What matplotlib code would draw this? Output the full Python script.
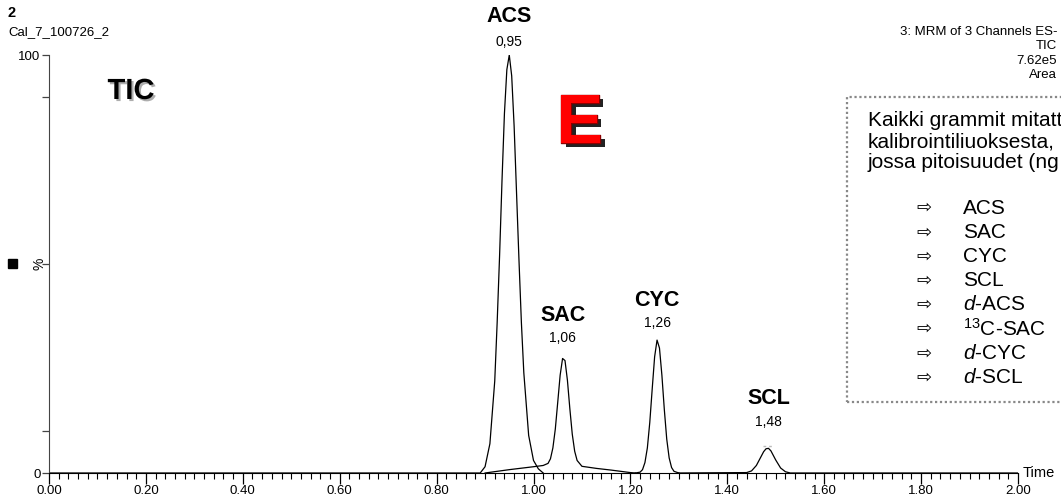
import matplotlib.pyplot as plt
import matplotlib.patheffects as pe
from matplotlib.patches import Rectangle

plt.rcParams['font.family'] = ['Liberation Sans', 'DejaVu Sans']
plt.rcParams['mathtext.fontset'] = 'custom'
plt.rcParams['mathtext.rm'] = 'Liberation Sans'
plt.rcParams['mathtext.it'] = 'Liberation Sans:italic'

# trace (time in min, % of max)
acs_time = [0.00, 0.89, 0.90, 0.91, 0.92, 0.925, 0.93, 0.935, 0.94, 0.945, 0.95,
            0.955, 0.96, 0.965, 0.97, 0.975, 0.98, 0.99, 1.00, 1.01, 1.02]
acs_pct = [0, 0, 1.5, 7, 22, 36, 52, 70, 86, 96.5, 100,
           95, 83, 67, 51, 36, 24, 9, 3, 1, 0]

# SAC sits on a low broad hump
sac_time = [0.90, 0.95, 1.00, 1.02, 1.03, 1.035, 1.04, 1.045, 1.05, 1.055, 1.06,
            1.065, 1.07, 1.075, 1.08, 1.085, 1.09, 1.10, 1.13, 1.16, 1.20, 1.21]
sac_pct = [0, 0.8, 1.5, 1.8, 2.3, 3.4, 6.0, 10.5, 16.9, 23.4, 27.4,
           26.9, 22.2, 15.4, 9.3, 5.2, 3.0, 1.6, 1.1, 0.7, 0.1, 0]

cyc_time = [1.21, 1.22, 1.225, 1.23, 1.235, 1.24, 1.245, 1.25, 1.255, 1.26,
            1.265, 1.27, 1.275, 1.28, 1.285, 1.29, 1.30]
cyc_pct = [0, 0.2, 0.8, 2.5, 6.0, 12.1, 20.1, 27.8, 31.8, 29.9,
           23.4, 15.2, 8.1, 3.6, 1.3, 0.4, 0]

scl_time = [1.30, 1.44, 1.45, 1.46, 1.47, 1.475, 1.48, 1.485, 1.49, 1.50,
            1.51, 1.52, 1.53, 2.00]
scl_pct = [0, 0.1, 0.5, 1.8, 4.0, 5.1, 5.8, 5.9, 5.3, 3.1,
           1.2, 0.3, 0, 0]

peak_names = ['ACS', 'SAC', 'CYC', 'SCL']
peak_rt = ['0,95', '1,06', '1,26', '1,48']

compounds = ['ACS', 'SAC', 'CYC', 'SCL', '$\\it{d}$-ACS', '$^{13}$C-SAC',
             '$\\it{d}$-CYC', '$\\it{d}$-SCL']
note_lines = ['Kaikki grammit mitatt', 'kalibrointiliuoksesta,',
              'jossa pitoisuudet (ng']

W, H = 1061, 499
fig = plt.figure(figsize=(W / 100, H / 100), dpi=100)
ax = fig.add_axes([49 / W, 1 - 473 / H, (1018 - 49) / W, (473 - 55) / H])

traces = [(acs_time, acs_pct), (sac_time, sac_pct),
          (cyc_time, cyc_pct), (scl_time, scl_pct)]
for t, p in traces:
    ax.plot(t, p, color='black', lw=0.9, solid_joinstyle='round')

ax.set_xlim(0, 2.0)
ax.set_ylim(0, 100)
for s in ['top', 'right']:
    ax.spines[s].set_visible(False)
ax.spines['left'].set_color('#444444')
ax.spines['bottom'].set_color('black')

ax.set_xticks([i * 0.2 for i in range(11)])
ax.set_xticklabels(['%.2f' % (i * 0.2) for i in range(11)], fontsize=9.5)
ax.set_xticks([i * 0.02 for i in range(101)], minor=True)
ax.tick_params(axis='x', which='major', length=8, width=0.9, pad=1)
ax.tick_params(axis='x', which='minor', length=4, width=0.8)
ax.set_yticks([0, 10, 50, 90, 100])
ax.set_yticklabels(['0', '', '', '', '100'], fontsize=9.5)
ax.tick_params(axis='y', length=5, width=0.9, pad=1, color='#444444')

# peak labels
name_off = [38, 43, 40, 50]
rt_off = [13, 20, 17, 26]
for (t, p), nm, rt, no, ro in zip(traces, peak_names, peak_rt, name_off, rt_off):
    i = p.index(max(p))
    ax.annotate(nm, (t[i], p[i]), xytext=(0, no), textcoords='offset pixels',
                ha='center', va='center', fontsize=15.5, fontweight='bold',
                annotation_clip=False)
    ax.annotate(rt, (t[i], p[i]), xytext=(0, ro), textcoords='offset pixels',
                ha='center', va='center', fontsize=10, annotation_clip=False)

# small dashed marker over the SCL apex
i = scl_pct.index(max(scl_pct))
ax.plot([scl_time[i] - 0.012, scl_time[i] + 0.012], [scl_pct[i] + 0.6] * 2,
        color='#bbbbbb', lw=1, ls=(0, (2, 2)))

ax.text(1.005, 0, 'Time', transform=ax.transAxes, ha='left', va='center',
        fontsize=10.5)
fig.text(40 / W, 1 - 264 / H, '%', rotation=90, ha='center', va='center',
         fontsize=10)
fig.patches.append(Rectangle((8 / W, 1 - 268 / H), 9 / W, 9 / H,
                             transform=fig.transFigure, color='black'))

# header texts
fig.text(7 / W, 1 - 13 / H, '2', fontsize=10.5, fontweight='bold', va='center')
fig.text(8 / W, 1 - 32 / H, 'Cal_7_100726_2', fontsize=9.5, va='center')
for k, s in enumerate(['3: MRM of 3 Channels ES-', 'TIC', '7.62e5', 'Area']):
    fig.text(1057 / W, 1 - (32 + 14.3 * k) / H, s, fontsize=9.5,
             ha='right', va='center')

fig.text(131 / W, 1 - 91 / H, 'TIC', fontsize=21, fontweight='bold',
         ha='center', va='center',
         path_effects=[pe.SimplePatchShadow(offset=(1.5, -1.5),
                                            shadow_rgbFace='#999999', alpha=0.8),
                       pe.Normal()])

fig.text(580 / W, 1 - 125 / H, 'E', fontsize=50, fontweight='bold',
         color='#ff0000', ha='center', va='center',
         path_effects=[pe.SimplePatchShadow(offset=(3, -3),
                                            shadow_rgbFace='#222222', alpha=1),
                       pe.Stroke(linewidth=1, foreground='#8b0000'),
                       pe.Normal()])

# note box
fig.patches.append(Rectangle((847 / W, 1 - 402 / H), 230 / W, 305 / H,
                             transform=fig.transFigure, fill=False,
                             edgecolor='#888888', lw=1.6, ls=(0, (1, 1.2)),
                             clip_on=False))
for k, s in enumerate(note_lines):
    fig.text(868 / W, 1 - (121 + 21 * k) / H, s, fontsize=15, va='center')
for k, s in enumerate(compounds):
    y = 1 - (208 + 24.2 * k) / H
    fig.text(924 / W, y, '\u21e8', fontsize=13, ha='center', va='center',
             family='DejaVu Sans')
    fig.text(963 / W, y, s, fontsize=15, ha='left', va='center')

fig.savefig('out.png', dpi=100)
